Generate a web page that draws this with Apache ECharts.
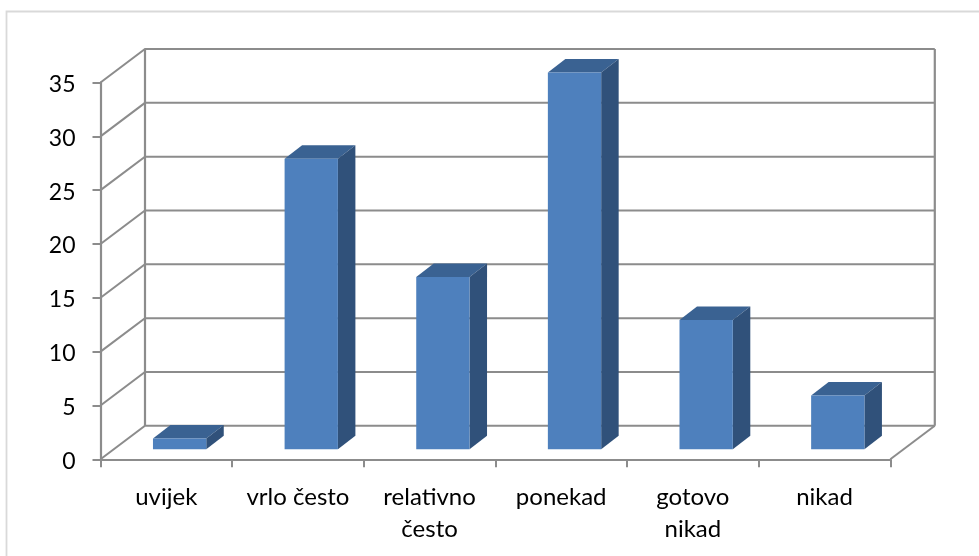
<!DOCTYPE html>
<html>
<head>
<meta charset="utf-8">
<style>html,body{margin:0;padding:0;background:#fff}#c{width:979px;height:556px}</style>
<script src="https://cdn.jsdelivr.net/npm/echarts@6/dist/echarts.min.js"></script>
</head>
<body>
<div id="c"></div>
<script>
const categories = ['uvijek', 'vrlo često', 'relativno\nčesto', 'ponekad', 'gotovo\nnikad', 'nikad'];
const values = [1, 27, 16, 35, 12, 5];
const yTicks = [0, 5, 10, 15, 20, 25, 30, 35];

const FONT = 'Lato';
const AXIS = '#8c8c8c';
const WALL_DX = 44.5, WALL_DY = 33.5;
const BAR_DX = 13.3, BAR_DY = 10, BAR_W = 53.3, SIDE_DX = 17.5, SIDE_DY = 13.5;

function line(pts, w) {
  return { type: 'polyline', shape: { points: pts }, style: { stroke: AXIS, lineWidth: w || 2, fill: null } };
}

function renderWall(params, api) {
  const v = api.value(1);
  const g = params.coordSys;
  const y = api.coord([0, v])[1];
  const x0 = g.x, x1 = g.x + g.width;
  const children = [
    line([[x0, y], [x0 + WALL_DX, y - WALL_DY], [x1 + WALL_DX, y - WALL_DY]])
  ];
  if (params.dataIndex === 0) {
    const bottom = y - WALL_DY, top = g.y - WALL_DY;
    children.push(line([[x0 + WALL_DX, bottom], [x0 + WALL_DX, top]], 2.2));
    children.push(line([[x1 + WALL_DX, bottom], [x1 + WALL_DX, top]], 2.2));
    children.push(line([[x1, y], [x1 + WALL_DX, bottom]]));
  }
  return { type: 'group', children };
}

function renderBar(params, api) {
  const p = api.coord([api.value(0), api.value(1)]);
  const b = api.coord([api.value(0), 0]);
  const l = p[0] + BAR_DX - BAR_W / 2, r = l + BAR_W;
  const t = p[1] - BAR_DY, base = b[1] - BAR_DY;
  return {
    type: 'group',
    children: [
      { type: 'polygon', shape: { points: [[l, t], [r, t], [r + SIDE_DX, t - SIDE_DY], [l + SIDE_DX, t - SIDE_DY]] }, style: { fill: '#3a6292' } },
      { type: 'polygon', shape: { points: [[r, t], [r + SIDE_DX, t - SIDE_DY], [r + SIDE_DX, base - SIDE_DY], [r, base]] }, style: { fill: '#30517a' } },
      { type: 'rect', shape: { x: l, y: t, width: BAR_W, height: base - t }, style: { fill: '#4e80bd' } }
    ]
  };
}

const chart = echarts.init(document.getElementById('c'), null, { renderer: 'canvas' });
chart.setOption({
  animation: false,
  backgroundColor: '#ffffff',
  graphic: [{
    type: 'rect', z: -1, silent: true,
    shape: { x: 6.5, y: 11.5, width: 990, height: 600 },
    style: { fill: null, stroke: '#d9d9d9', lineWidth: 1.8 }
  }],
  grid: { left: 100.5, right: 88.7, top: 82.5, bottom: 96.7 },
  xAxis: {
    type: 'category',
    data: categories,
    axisLine: { lineStyle: { color: AXIS, width: 2 } },
    axisTick: { show: true, alignWithLabel: false, length: 8, lineStyle: { color: AXIS, width: 2 } },
    axisLabel: { interval: 0, color: '#000', fontFamily: FONT, fontSize: 24, lineHeight: 32, margin: 22 }
  },
  yAxis: {
    type: 'value',
    min: 0, max: 35, interval: 5,
    splitLine: { show: false },
    axisLine: { show: true, lineStyle: { color: AXIS, width: 2.2 } },
    axisTick: { show: true, length: 8, lineStyle: { color: AXIS, width: 2 } },
    axisLabel: { color: '#000', fontFamily: FONT, fontSize: 23, margin: 25, verticalAlign: 'top', lineHeight: 4 }
  },
  series: [
    { type: 'custom', name: 'walls', z: 1, silent: true, renderItem: renderWall, data: yTicks.map(v => [0, v]) },
    { type: 'custom', name: 'values', z: 2, renderItem: renderBar, data: values.map((v, i) => [i, v]) }
  ]
});
</script>
</body>
</html>
